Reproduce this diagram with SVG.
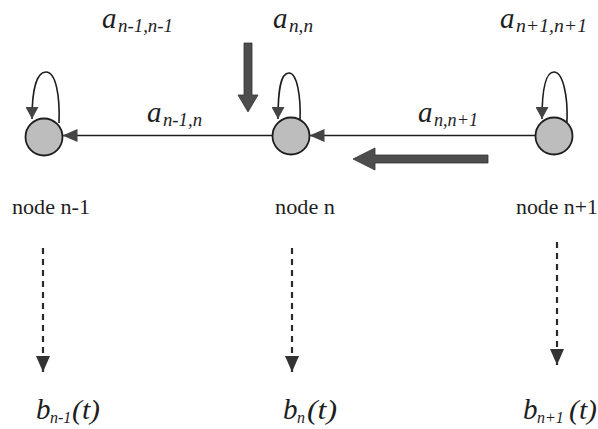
<svg xmlns="http://www.w3.org/2000/svg" width="598" height="429" viewBox="0 0 598 429">
  <style>
    .node circle { fill: #bdbdbd; stroke: #1e1e1e; stroke-width: 1.8; }
    .nlabel { font-family: "Liberation Serif", "Times New Roman", serif; font-size: 21px; fill: #1e1e1e; }
    .it { font-family: "Liberation Serif", "Times New Roman", serif; font-style: italic; fill: #1e1e1e; }
    .main { font-size: 29px; }
    .sub { font-size: 19px; }
    .bsub { font-size: 16px; }
    .edge { fill: none; stroke: #1e1e1e; stroke-width: 1.6; }
    .dash { fill: none; stroke: #2a2a2a; stroke-width: 2.2; stroke-dasharray: 6 5; }
    .big { fill: #4d4d4d; stroke: #333; stroke-width: 0.8; }
  </style>
  <defs>
    <marker id="head" viewBox="0 0 15 13" markerWidth="15" markerHeight="13" refX="15" refY="6.5" orient="auto" markerUnits="userSpaceOnUse">
      <path d="M0,0 L15,6.5 L0,13 z" fill="#444"/>
    </marker>
    <marker id="loophead" viewBox="0 0 12 13" markerWidth="12" markerHeight="13" refX="12" refY="6.5" orient="auto" markerUnits="userSpaceOnUse">
      <path d="M0,0 L12,6.5 L0,13 z" fill="#444"/>
    </marker>
    <marker id="dashhead" viewBox="0 0 16 14" markerWidth="16" markerHeight="14" refX="16" refY="7" orient="auto" markerUnits="userSpaceOnUse">
      <path d="M0,0 L16,7 L0,14 z" fill="#333"/>
    </marker>
  </defs>

  <g id="connectors">
    <path class="edge" d="M59,123 C60,96 56,72 46,72 C36,72 32,92 32,119" marker-end="url(#loophead)"/>
    <path class="edge" d="M300,121 C301,96 297,73 289,73 C280,73 278,92 278,119" marker-end="url(#loophead)"/>
    <path class="edge" d="M567,122 C568,96 563,72 554,72 C545,72 542,92 542,119" marker-end="url(#loophead)"/>
    <path class="edge" d="M272.5,135.5 L62.5,135.5" marker-end="url(#head)"/>
    <path class="edge" d="M535.5,135.5 L309.5,135.5" marker-end="url(#head)"/>
    <path class="dash" d="M43,248 L43,372" marker-end="url(#dashhead)"/>
    <path class="dash" d="M292,248 L292,372" marker-end="url(#dashhead)"/>
    <path class="dash" d="M557,242 L557,365" marker-end="url(#dashhead)"/>
    <path class="big" d="M244,43 L252,43 L252,95 L258,95 L248,112 L238,95 L244,95 z"/>
    <path class="big" d="M488,155 L488,163 L375,163 L375,170 L353,159 L375,148 L375,155 z"/>
    <text class="it"><tspan class="main" x="147" y="122">a</tspan><tspan class="sub" x="163" y="126" textLength="39" lengthAdjust="spacingAndGlyphs">n-1,n</tspan></text>
    <text class="it"><tspan class="main" x="418" y="122">a</tspan><tspan class="sub" x="434" y="126" textLength="44" lengthAdjust="spacingAndGlyphs">n,n+1</tspan></text>
    <text class="it"><tspan class="main" x="102" y="28">a</tspan><tspan class="sub" x="118" y="32" textLength="55" lengthAdjust="spacingAndGlyphs">n-1,n-1</tspan></text>
    <text class="it"><tspan class="main" x="273" y="28">a</tspan><tspan class="sub" x="289" y="32" textLength="24" lengthAdjust="spacingAndGlyphs">n,n</tspan></text>
    <text class="it"><tspan class="main" x="500" y="28">a</tspan><tspan class="sub" x="516" y="32" textLength="71" lengthAdjust="spacingAndGlyphs">n+1,n+1</tspan></text>
  </g>

  <g id="node-n-1" class="node">
    <circle cx="44" cy="137" r="18.5"/>
    <text class="nlabel" x="12" y="214" textLength="78" lengthAdjust="spacingAndGlyphs">node n-1</text>
  </g>
  <g id="node-n" class="node">
    <circle cx="291" cy="136" r="18.5"/>
    <text class="nlabel" x="275" y="214" textLength="60" lengthAdjust="spacingAndGlyphs">node n</text>
  </g>
  <g id="node-n+1" class="node">
    <circle cx="554" cy="136" r="18.5"/>
    <text class="nlabel" x="516" y="214" textLength="82" lengthAdjust="spacingAndGlyphs">node n+1</text>
  </g>

  <g id="output-n-1">
    <text class="it"><tspan class="main" x="36" y="419">b</tspan><tspan class="bsub" x="50" y="423">n-1</tspan><tspan x="72" y="419" font-size="28" textLength="28" lengthAdjust="spacingAndGlyphs">(t)</tspan></text>
  </g>
  <g id="output-n">
    <text class="it"><tspan class="main" x="283" y="419">b</tspan><tspan class="bsub" x="297" y="423">n</tspan><tspan x="307" y="419" font-size="28" textLength="30" lengthAdjust="spacingAndGlyphs">(t)</tspan></text>
  </g>
  <g id="output-n+1">
    <text class="it"><tspan class="main" x="523" y="419">b</tspan><tspan class="bsub" x="537" y="423">n+1</tspan><tspan x="569" y="419" font-size="28" textLength="28" lengthAdjust="spacingAndGlyphs">(t)</tspan></text>
  </g>
</svg>
